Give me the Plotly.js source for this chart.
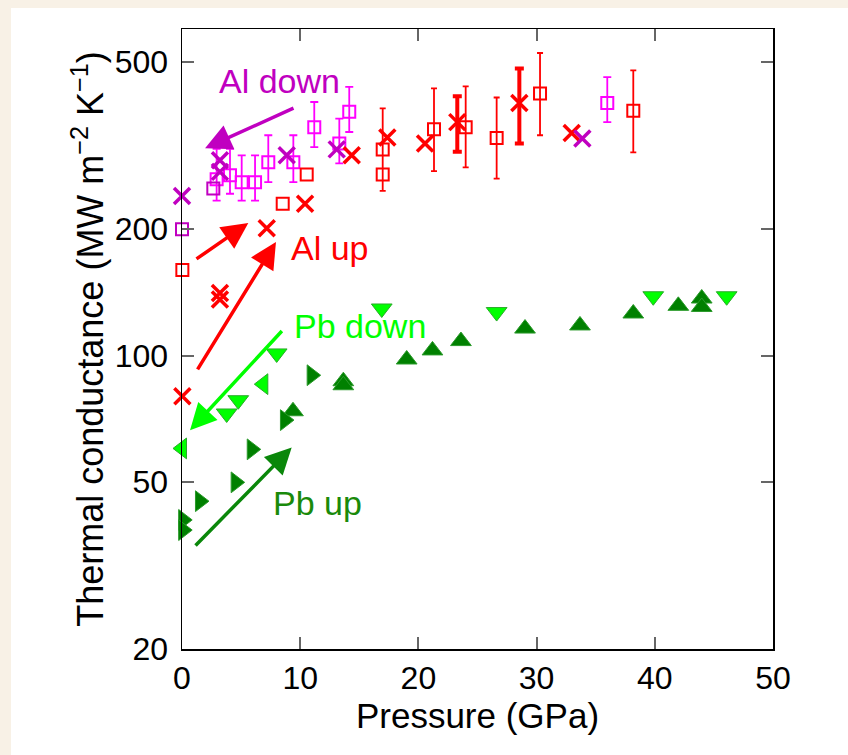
<!DOCTYPE html>
<html>
<head>
<meta charset="utf-8">
<script src="https://cdn.plot.ly/plotly-3.0.1.min.js"></script>
<style>html,body{margin:0;padding:0;background:#f8f1e6;}</style>
</head>
<body>
<div id="chart" style="width:848px;height:755px;"></div>
<script>
// ---------- data (pressure in GPa, conductance in MW m^-2 K^-1) ----------
// Al up: red open squares with error bars
const alUpSqErrP  = [16.98, 21.32, 24.0, 26.62, 30.29, 38.18];
const alUpSqErrG  = [310, 346, 350, 330, 421, 383];
const alUpSqErrHi = [388, 433, 438, 412, 526, 478];
const alUpSqErrLo = [247, 275, 281, 264, 335, 305];
// Al up: red open squares without error bars
const alUpSqP = [0.03, 8.52, 10.55, 16.98];
const alUpSqG = [160, 230, 270, 270];
// Al up: red crosses
const alUpXP = [0.03, 3.21, 3.21, 7.17, 10.41, 14.36, 17.37, 20.56, 32.97];
const alUpXG = [80, 141, 136, 201, 230, 300, 331, 320, 339];
// Al up: red crosses with thick error bars
const alUpXErrP  = [23.29, 28.54];
const alUpXErrG  = [360, 400];
const alUpXErrHi = [415, 483];
const alUpXErrLo = [306, 320];
// Al down: magenta open squares with error bars
const alDnSqErrP  = [2.93, 4.06, 5.05, 6.18, 7.30, 9.42, 11.19, 13.31, 14.15, 35.98];
const alDnSqErrG  = [263, 269, 259, 259, 289, 289, 350, 320, 381, 400];
const alDnSqErrHi = [311, 311, 300, 300, 335, 335, 402, 367, 437, 461];
const alDnSqErrLo = [234, 243, 234, 234, 259, 259, 314, 287, 341, 360];
// Al down: purple open squares
const alDnSqP = [0, 2.65];
const alDnSqG = [200, 250];
// Al down: purple crosses
const alDnXP = [0, 3.21, 3.21, 8.86, 13.09, 33.87];
const alDnXG = [240, 292, 274, 300, 310, 329];
// Pb down: lime triangles
const pbDnTriDownP = [3.78, 4.76, 8.01, 16.9, 26.62, 39.87, 46.08];
const pbDnTriDownG = [72.8, 78.3, 101.2, 129.5, 127, 138.5, 138.5];
const pbDnTriLeftP = [0, 6.88];
const pbDnTriLeftG = [60.1, 85.5];
// Pb up: dark green triangles
const pbUpTriUpP = [9.39, 13.65, 13.65, 19.01, 21.19, 23.6, 29.02, 33.67, 38.18, 41.99, 43.97, 43.97];
const pbUpTriUpG = [73.7, 86.9, 85.0, 97.9, 102.9, 108.3, 116, 118, 126, 131.4, 136.8, 130.6];
const pbUpTriRightP = [0.1, 0.1, 1.52, 4.54, 5.90, 8.71, 10.97];
const pbUpTriRightG = [40.6, 38.4, 45.0, 49.9, 59.8, 70.2, 89.8];

// axis ticks
const xTicks = [0, 10, 20, 30, 40, 50];
const yTicks = [20, 50, 100, 200, 500];
const yTickText = ['20', '50', '100', '200', '500'];

// labels and arrows (data coordinates)
const labelText = ['Al down', 'Al up', 'Pb down', 'Pb up'];
const labelP    = [8.29, 12.52, 15.06, 11.5];
const labelG    = [452, 180, 117.5, 44.5];
const labelCol  = ['#c000c0', '#ff0000', '#00ff00', '#1a8a0a'];
const arrowTipP  = [1.95, 5.61, 7.95, 0.68, 9.28];
const arrowTipG  = [312, 207, 186.6, 66.4, 60.4];
const arrowTailP = [9.56, 1.10, 1.24, 8.57, 1.02];
const arrowTailG = [390, 169, 92, 115.4, 35.0];
const arrowCol   = ['#c000c0', '#ff0000', '#ff0000', '#00ff00', '#0a870a'];

// ---------- build ----------
const sub = (a, b) => a.map((v, i) => v - b[i]);
const FONT = 'Liberation Sans, Arial, Helvetica, sans-serif';

function sq(x, y, color, err) {
  const t = {x, y, type: 'scatter', mode: 'markers', cliponaxis: false,
    marker: {symbol: 'square-open', size: 12, color, line: {width: 2, color}}};
  if (err) t.error_y = {type: 'data', symmetric: false, array: sub(err[0], y), arrayminus: sub(y, err[1]),
    color, thickness: 1.8, width: err[2]};
  return t;
}
function cross(x, y, color, err) {
  const t = {x, y, type: 'scatter', mode: 'markers', cliponaxis: false,
    marker: {symbol: 'x-thin-open', size: 16, color, line: {width: 3.5, color}}};
  if (err) t.error_y = {type: 'data', symmetric: false, array: sub(err[0], y), arrayminus: sub(y, err[1]),
    color, thickness: 4, width: 4.5};
  return t;
}
function tri(x, y, symbol, fill, edge) {
  return {x, y, type: 'scatter', mode: 'markers', cliponaxis: false,
    marker: {symbol, size: 18, color: fill, line: {width: 1, color: edge}}};
}

const data = [
  sq(alDnSqErrP, alDnSqErrG, '#ff00ff', [alDnSqErrHi, alDnSqErrLo, 4]),
  sq(alDnSqP, alDnSqG, '#c000c0'),
  sq(alUpSqErrP, alUpSqErrG, '#ff0000', [alUpSqErrHi, alUpSqErrLo, 3]),
  sq(alUpSqP, alUpSqG, '#ff0000'),
  cross(alUpXP, alUpXG, '#ff0000'),
  cross(alUpXErrP, alUpXErrG, '#ff0000', [alUpXErrHi, alUpXErrLo]),
  cross(alDnXP, alDnXG, '#c000c0'),
  tri(pbUpTriUpP, pbUpTriUpG, 'triangle-up', '#008000', '#2a9a2a'),
  tri(pbUpTriRightP, pbUpTriRightG, 'triangle-right', '#008000', '#2a9a2a'),
  tri(pbDnTriDownP, pbDnTriDownG, 'triangle-down', '#00ff00', '#2aaa2a'),
  tri(pbDnTriLeftP, pbDnTriLeftG, 'triangle-left', '#00ff00', '#2aaa2a')
];

const annotations = [];
for (let i = 0; i < arrowTipP.length; i++) {
  annotations.push({x: arrowTipP[i], y: Math.log10(arrowTipG[i]), xref: 'x', yref: 'y',
    ax: arrowTailP[i], ay: Math.log10(arrowTailG[i]), axref: 'x', ayref: 'y',
    text: '', showarrow: true, arrowhead: 2, arrowsize: 1.5, arrowwidth: 3.5,
    arrowcolor: arrowCol[i], standoff: 0, startstandoff: 0});
}
for (let i = 0; i < labelText.length; i++) {
  annotations.push({x: labelP[i], y: Math.log10(labelG[i]), xref: 'x', yref: 'y',
    text: labelText[i], showarrow: false, xanchor: 'center', yanchor: 'middle',
    font: {family: FONT, size: 34, color: labelCol[i]}});
}

const axisCommon = {showline: true, linecolor: '#000', linewidth: 1.5, mirror: 'allticks',
  ticks: 'inside', ticklen: 12, tickwidth: 2, tickcolor: '#666',
  showgrid: false, zeroline: false, tickfont: {family: FONT, size: 32, color: '#000'}};

const layout = {
  width: 848, height: 755,
  margin: {l: 182, r: 75, t: 29, b: 106, pad: 0},
  paper_bgcolor: '#f8f1e6', plot_bgcolor: '#ffffff',
  showlegend: false,
  font: {family: FONT, color: '#000'},
  shapes: [{type: 'rect', xref: 'paper', yref: 'paper', x0: -0.2893, x1: 1.2, y0: -0.3, y1: 1.0339,
    fillcolor: '#ffffff', line: {width: 0}, layer: 'below'}],
  xaxis: Object.assign({}, axisCommon, {range: [0, 50], tickmode: 'array', tickvals: xTicks,
    title: {text: 'Pressure (GPa)', font: {family: FONT, size: 35, color: '#000'}, standoff: 0}}),
  yaxis: Object.assign({}, axisCommon, {type: 'log', range: [Math.log10(20), Math.log10(600)],
    tickmode: 'array', tickvals: yTicks, ticktext: yTickText, ticklabelstandoff: 6,
    title: {text: 'Thermal conductance (MW m<sup>\u22122</sup> K<sup>\u22121</sup>)',
      font: {family: FONT, size: 36, color: '#000'}, standoff: 0}}),
  annotations
};

Plotly.newPlot('chart', data, layout, {displayModeBar: false, staticPlot: true});
</script>
</body>
</html>
